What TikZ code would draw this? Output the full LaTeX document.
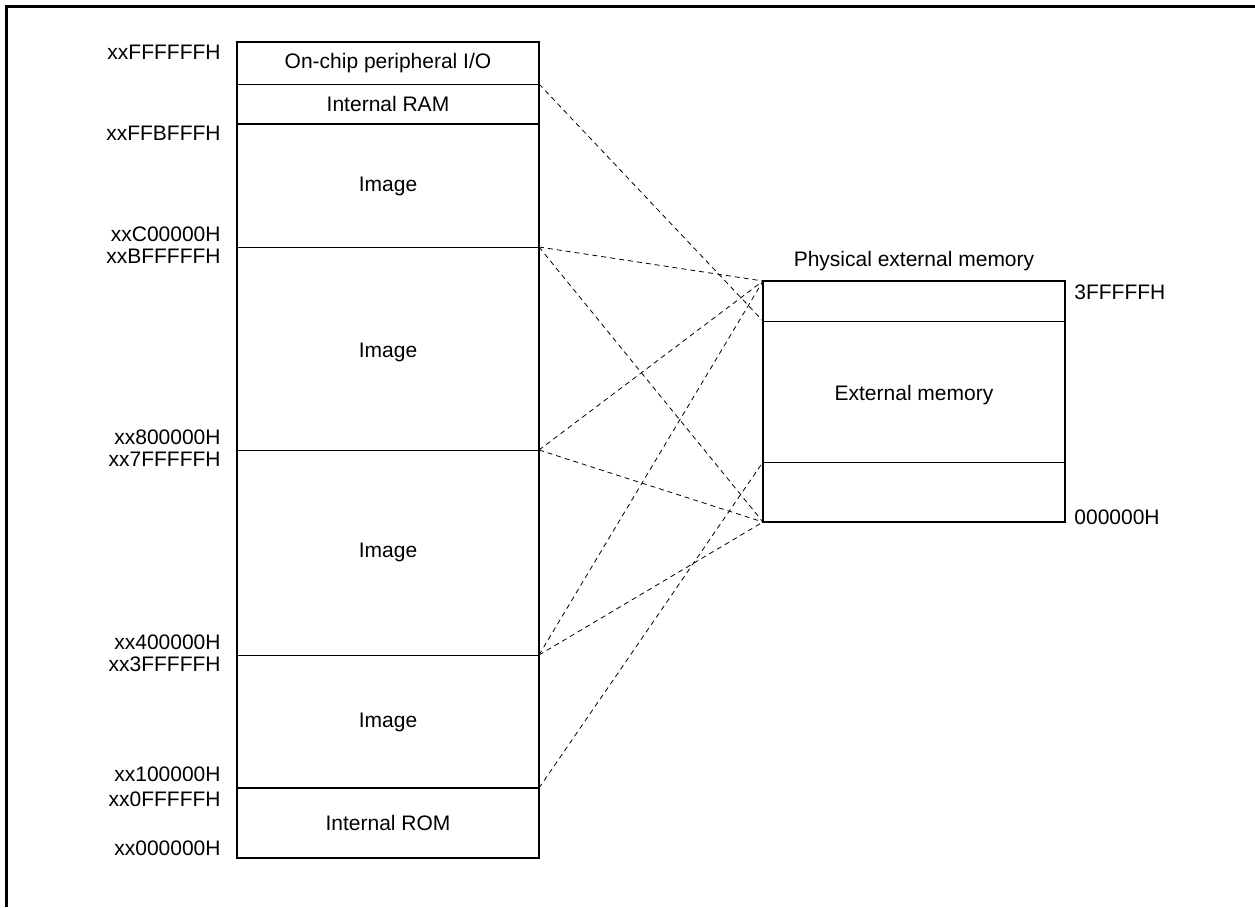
\documentclass[tikz,border=0pt]{standalone}
\usepackage{fontspec}
\setmainfont{Liberation Sans}

\begin{document}
\begin{tikzpicture}[x=0.5pt,y=-0.5pt,font=\fontsize{10.5}{12}\selectfont,
	addr/.style={anchor=east,inner sep=0pt},
	phys/.style={anchor=west,inner sep=0pt},
	thick box/.style={line width=1pt},
	thin div/.style={line width=0.4pt},
	map/.style={line width=0.4pt,dash pattern=on 2.5pt off 2pt}]
	\useasboundingbox (0,0) rectangle (1255,907);
	\draw[line width=1.5pt] (6,907) -- (6,6) -- (1255,6);

	\coordinate (m0) at (539,84);
	\coordinate (m1) at (539,247);
	\coordinate (m2) at (539,450);
	\coordinate (m3) at (539,655);
	\coordinate (m4) at (539,788);
	\coordinate (p0) at (763,281);
	\coordinate (p1) at (763,321);
	\coordinate (p2) at (763,462);
	\coordinate (p3) at (763,522);

	\draw[thin div] (237,84) -- (m0);
	\draw[thin div] (237,247) -- (m1);
	\draw[thin div] (237,450) -- (m2);
	\draw[thin div] (237,655) -- (m3);
	\draw[thick box] (237,124) -- (539,124);
	\draw[thick box] (237,788) -- (m4);
	\draw[thick box] (237,42) rectangle (539,858);

	\draw[thin div] (p1) -- (1065,321);
	\draw[thin div] (p2) -- (1065,462);
	\draw[thick box] (p0) rectangle (1065,522);

	\node (io) at (388,63) {On-chip peripheral I/O};
	\node (ram) at (388,104) {Internal RAM};
	\node (img3) at (388,186) {Image};
	\node (img2) at (388,352) {Image};
	\node (img1) at (388,552) {Image};
	\node (img0) at (388,722) {Image};
	\node (rom) at (388,823) {Internal ROM};
	\node (ext) at (914,395) {External memory};
	\node (title) at (914,261) {Physical external memory};

	\node[addr] (a1) at (221,52) {xxFFFFFFH};
	\node[addr] (a2) at (221,133) {xxFFBFFFH};
	\node[addr] (a3) at (221,234) {xxC00000H};
	\node[addr] (a4) at (221,256) {xxBFFFFFH};
	\node[addr] (a5) at (221,437) {xx800000H};
	\node[addr] (a6) at (221,459) {xx7FFFFFH};
	\node[addr] (a7) at (221,642) {xx400000H};
	\node[addr] (a8) at (221,664) {xx3FFFFFH};
	\node[addr] (a9) at (221,774) {xx100000H};
	\node[addr] (a10) at (221,799) {xx0FFFFFH};
	\node[addr] (a11) at (221,848) {xx000000H};
	\node[phys] (b1) at (1074,292) {3FFFFFH};
	\node[phys] (b2) at (1074,517) {000000H};

	\draw[map] (m0) -- (p1);
	\draw[map] (m1) -- (p0);
	\draw[map] (m1) -- (p3);
	\draw[map] (m2) -- (p0);
	\draw[map] (m2) -- (p3);
	\draw[map] (m3) -- (p0);
	\draw[map] (m3) -- (p3);
	\draw[map] (m4) -- (p2);
\end{tikzpicture}
\end{document}
